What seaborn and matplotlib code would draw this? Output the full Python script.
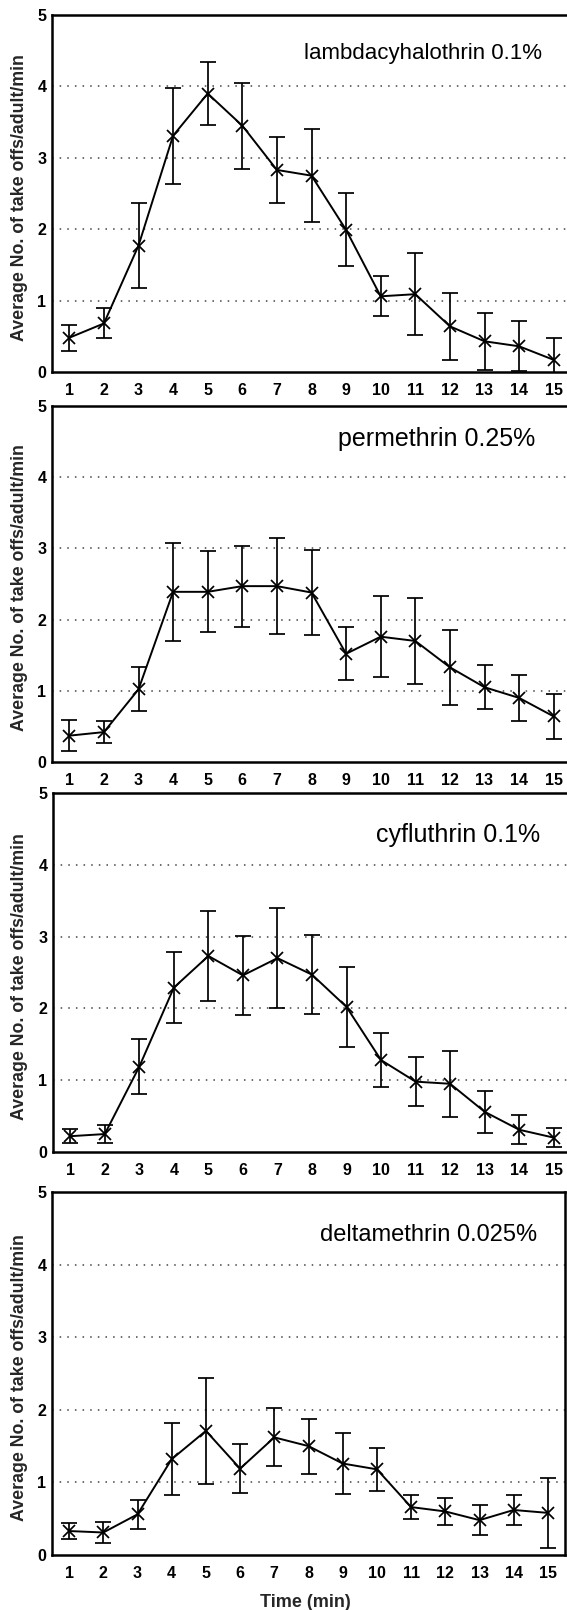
import numpy as np
import pandas as pd
import matplotlib
matplotlib.use("Agg")
import matplotlib.pyplot as plt
import seaborn as sns

sns.set_theme(style="white")
plt.rcParams['font.family'] = ['Liberation Sans', 'DejaVu Sans']

# ---------------- data ----------------
time_min = list(range(1, 16))

panel_labels = ["lambdacyhalothrin 0.1%", "permethrin 0.25%",
                "cyfluthrin 0.1%", "deltamethrin 0.025%"]

lambda_mean = [0.48, 0.68, 1.77, 3.31, 3.90, 3.45, 2.83, 2.75, 1.99, 1.06, 1.09, 0.64, 0.43, 0.36, 0.17]
lambda_err = [0.18, 0.21, 0.59, 0.67, 0.44, 0.60, 0.46, 0.65, 0.51, 0.28, 0.57, 0.47, 0.40, 0.35, 0.31]

perm_mean = [0.37, 0.42, 1.02, 2.39, 2.39, 2.47, 2.47, 2.38, 1.52, 1.76, 1.70, 1.33, 1.05, 0.90, 0.64]
perm_err = [0.22, 0.16, 0.31, 0.69, 0.57, 0.57, 0.67, 0.60, 0.37, 0.57, 0.60, 0.53, 0.31, 0.32, 0.32]

cyf_mean = [0.22, 0.25, 1.19, 2.29, 2.73, 2.46, 2.70, 2.47, 2.02, 1.28, 0.98, 0.95, 0.56, 0.31, 0.20]
cyf_err = [0.10, 0.12, 0.38, 0.50, 0.62, 0.55, 0.70, 0.55, 0.56, 0.38, 0.34, 0.46, 0.29, 0.20, 0.13]

delta_mean = [0.33, 0.31, 0.56, 1.32, 1.71, 1.19, 1.62, 1.50, 1.26, 1.18, 0.66, 0.60, 0.48, 0.62, 0.58]
delta_err = [0.11, 0.14, 0.20, 0.50, 0.73, 0.34, 0.40, 0.38, 0.42, 0.30, 0.17, 0.19, 0.21, 0.21, 0.48]

y_ticks = [0, 1, 2, 3, 4, 5]
y_label = "Average No. of take offs/adult/min"
x_label = "Time (min)"

means = [lambda_mean, perm_mean, cyf_mean, delta_mean]
errs = [lambda_err, perm_err, cyf_err, delta_err]

# ---------------- layout (pixels) ----------------
W, H = 567, 1610
fig = plt.figure(figsize=(W / 100, H / 100), dpi=100)
fig.patch.set_facecolor("white")

# (left, right, top, bottom) in pixels
boxes = [(52, 571, 15, 372), (52, 571, 406, 762), (53, 571, 793, 1152), (52, 565, 1192, 1555)]
text_right_x = [14.65, 14.48, 14.6, 14.69]           # right edge of panel label, data units
text_top_frac = [0.107, 0.093, 0.116, 0.119]          # centre of panel label below top, axes fraction
text_size = [16, 18, 18, 17]

for i, (l, r, t, b) in enumerate(boxes):
    ax = fig.add_axes([l / W, 1 - b / H, (r - l) / W, (b - t) / H])
    df = pd.DataFrame({"time": time_min, "mean": means[i], "err": errs[i]})
    ax.errorbar(df["time"], df["mean"], yerr=df["err"], fmt="none",
                ecolor="black", elinewidth=1.25, capsize=5.5, capthick=1.25, zorder=3)
    sns.lineplot(data=df, x="time", y="mean", ax=ax, color="black", linewidth=1.4,
                 marker="x", markersize=9, markeredgewidth=1.25, markeredgecolor="black",
                 errorbar=None, zorder=4)
    ax.set_xlim(0.5, 15.5)
    ax.set_ylim(0, 5)
    ax.set_xticks(time_min)
    ax.set_xticklabels([str(v) for v in time_min])
    ax.set_yticks(y_ticks)
    ax.set_yticklabels([str(v) for v in y_ticks])
    for g in [1, 2, 3, 4]:
        ax.axhline(g, color="#444444", linewidth=1.1, linestyle=(0, (1, 4)), zorder=1)
    for s in ax.spines.values():
        s.set_visible(True)
        s.set_color("black")
        s.set_linewidth(1.8)
    ax.tick_params(axis="both", length=0, labelsize=11.5, colors="black")
    ax.tick_params(axis="x", pad=8)
    ax.tick_params(axis="y", pad=4)
    for lab in ax.get_xticklabels() + ax.get_yticklabels():
        lab.set_fontweight("bold")
    ax.set_ylabel(y_label, fontsize=12.8, fontweight="bold", va="center")
    ax.yaxis.set_label_coords(-(l - 20) / (r - l), 0.49)
    if i == 3:
        ax.set_xlabel(x_label, fontsize=13, fontweight="bold", va="center")
        ax.xaxis.set_label_coords((305 - l) / (r - l), -(1602 - b) / (b - t))
    else:
        ax.set_xlabel("")
    ax.text(text_right_x[i], 5 * (1 - text_top_frac[i]), panel_labels[i],
            ha="right", va="center", fontsize=text_size[i], color="black")
    ax.set_facecolor("white")

fig.savefig("out.png", dpi=100, facecolor="white")
